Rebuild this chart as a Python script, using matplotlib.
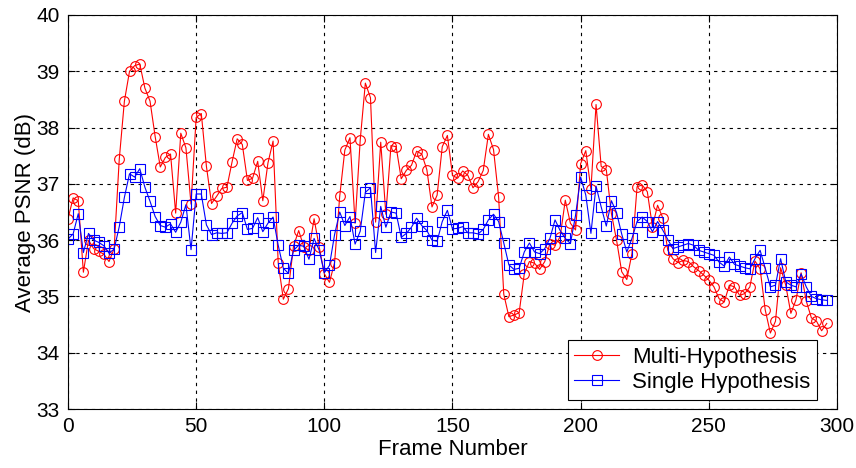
import numpy as np
import matplotlib.pyplot as plt

frames = np.arange(0, 298, 2)

multi = [36.38, 36.75, 36.70, 35.43, 36.00, 35.85, 35.80, 35.75, 35.62, 35.85,
         37.44, 38.47, 39.00, 39.10, 39.13, 38.70, 38.47, 37.84, 37.30, 37.47,
         37.53, 36.48, 37.90, 37.64, 36.64, 38.18, 38.25, 37.31, 36.65, 36.78,
         36.92, 36.94, 37.39, 37.80, 37.70, 37.06, 37.10, 37.40, 36.70, 37.37,
         37.76, 35.60, 34.95, 35.14, 35.90, 36.17, 35.88, 35.82, 36.38, 35.88,
         35.40, 35.25, 35.60, 36.78, 37.60, 37.82, 36.30, 37.78, 38.79, 38.53,
         36.32, 37.74, 36.46, 37.68, 37.66, 37.09, 37.24, 37.33, 37.58, 37.53,
         37.25, 36.59, 36.80, 37.66, 37.86, 37.15, 37.10, 37.23, 37.15, 36.93,
         37.04, 37.24, 37.88, 37.61, 36.76, 35.04, 34.64, 34.67, 34.71, 35.40,
         35.62, 35.59, 35.48, 35.62, 35.94, 35.91, 36.06, 36.71, 36.30, 36.18,
         37.36, 37.59, 36.90, 38.41, 37.31, 37.25, 36.47, 36.00, 35.44, 35.30,
         35.76, 36.95, 36.98, 36.86, 36.24, 36.62, 36.40, 35.82, 35.67, 35.60,
         35.64, 35.62, 35.53, 35.46, 35.38, 35.29, 35.17, 34.96, 34.90, 35.20,
         35.17, 35.02, 35.05, 35.17, 35.63, 35.49, 34.76, 34.35, 34.56, 35.51,
         35.20, 34.70, 34.94, 35.42, 34.92, 34.62, 34.56, 34.39, 34.52]

single = [36.02, 36.11, 36.47, 35.78, 36.12, 36.00, 35.96, 35.90, 35.77, 35.84,
          36.24, 36.76, 37.18, 37.12, 37.27, 36.94, 36.69, 36.42, 36.26, 36.23,
          36.29, 36.14, 36.32, 36.63, 35.83, 36.82, 36.82, 36.27, 36.10, 36.13,
          36.12, 36.13, 36.30, 36.43, 36.49, 36.19, 36.21, 36.40, 36.15, 36.30,
          36.41, 35.91, 35.50, 35.41, 35.82, 35.91, 35.89, 35.66, 36.03, 35.82,
          35.42, 35.55, 36.10, 36.50, 36.26, 36.42, 35.93, 36.16, 36.85, 36.93,
          35.78, 36.60, 36.23, 36.50, 36.48, 36.05, 36.12, 36.23, 36.39, 36.26,
          36.17, 36.00, 35.98, 36.33, 36.53, 36.20, 36.21, 36.24, 36.13, 36.13,
          36.11, 36.19, 36.36, 36.46, 36.33, 35.95, 35.56, 35.48, 35.50, 35.79,
          35.95, 35.79, 35.76, 35.85, 36.03, 36.36, 36.17, 36.03, 35.94, 36.44,
          37.12, 36.80, 36.12, 36.96, 36.59, 36.25, 36.70, 36.49, 36.11, 35.79,
          36.03, 36.33, 36.41, 36.33, 36.15, 36.33, 36.18, 36.01, 35.85, 35.88,
          35.91, 35.94, 35.91, 35.82, 35.79, 35.76, 35.73, 35.61, 35.54, 35.70,
          35.57, 35.54, 35.51, 35.49, 35.67, 35.82, 35.50, 35.17, 35.20, 35.67,
          35.26, 35.20, 35.17, 35.40, 35.17, 35.00, 34.96, 34.94, 34.93]

xticks = [0, 50, 100, 150, 200, 250, 300]
yticks = [33, 34, 35, 36, 37, 38, 39, 40]

plt.rcParams['font.family'] = ['Liberation Sans', 'DejaVu Sans']

fig = plt.figure(figsize=(8.56, 4.68), dpi=100)
ax = fig.add_axes([68 / 856, 1 - 409 / 468, 769 / 856, 394 / 468])

ax.plot(frames, multi, '-o', color='red', lw=0.8, ms=7, mfc='none', mew=0.8,
        label='Multi-Hypothesis')
ax.plot(frames, single, '-s', color='blue', lw=0.8, ms=7, mfc='none', mew=0.8,
        label='Single Hypothesis')

ax.set_xlim(0, 300)
ax.set_ylim(33, 40)
ax.set_xticks(xticks)
ax.set_yticks(yticks)
ax.tick_params(direction='in', top=True, right=True, labelsize=15, length=5, pad=6)
ax.grid(True, color='black', linestyle=(0, (3, 4)), linewidth=0.8)
for s in ax.spines.values():
    s.set_linewidth(0.8)

ax.set_xlabel('Frame Number', fontsize=16, labelpad=2)
ax.set_ylabel('Average PSNR (dB)', fontsize=16, labelpad=0)

leg = ax.legend(loc='lower right', prop={'size': 16},
                fancybox=False, framealpha=1, edgecolor='black',
                borderpad=0.3, handlelength=2.0, handletextpad=0.6,
                labelspacing=0.2, borderaxespad=0,
                bbox_to_anchor=(0.974, 0.023))
leg.get_frame().set_linewidth(0.8)

fig.savefig('out.png', dpi=100)
